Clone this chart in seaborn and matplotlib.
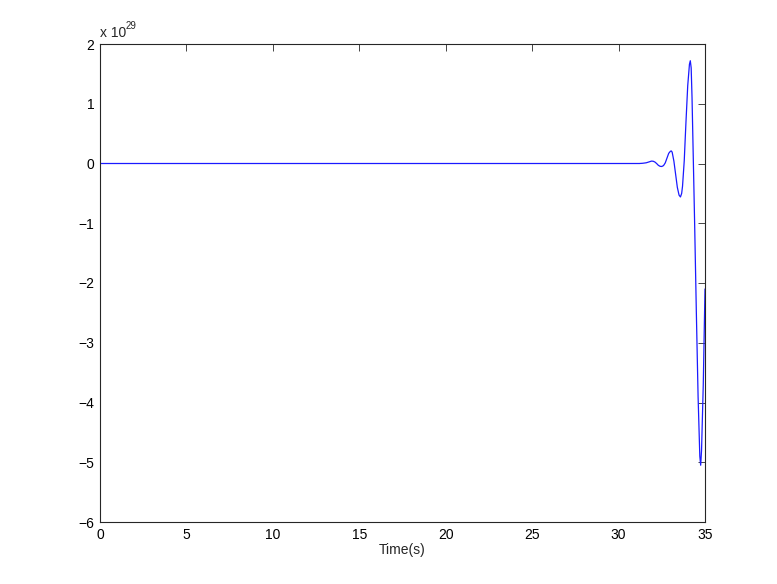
import numpy as np
import pandas as pd
import seaborn as sns
import matplotlib.pyplot as plt
from matplotlib.ticker import FuncFormatter, MultipleLocator

# signal, values in units of 1e29
time_s = [0.0, 31.0, 31.2, 31.4, 31.6, 31.8, 31.9, 32.0, 32.1, 32.2, 32.3,
          32.4, 32.5, 32.6, 32.7, 32.8, 32.9, 33.0, 33.05, 33.1, 33.2, 33.3,
          33.4, 33.5, 33.58, 33.65, 33.7, 33.8, 33.85, 33.9, 34.0, 34.1,
          34.15, 34.2, 34.25, 34.3, 34.35, 34.4, 34.5, 34.6, 34.7, 34.75,
          34.8, 34.9, 35.0]
signal_e29 = [0.0, 0.0, 0.0, 0.004, 0.012, 0.03, 0.04, 0.038, 0.025, 0.0,
              -0.03, -0.047, -0.05, -0.035, 0.01, 0.09, 0.17, 0.205, 0.21,
              0.19, 0.04, -0.18, -0.4, -0.53, -0.56, -0.5, -0.38, 0.05, 0.38,
              0.7, 1.3, 1.66, 1.72, 1.6, 1.1, 0.4, -0.3, -1.0, -2.5, -3.9,
              -4.9, -5.05, -4.8, -3.7, -2.1]

df = pd.DataFrame({"t": time_s, "y": np.array(signal_e29) * 1e29})

sns.set_style("white")
plt.rcParams["font.family"] = ["Liberation Sans", "DejaVu Sans"]

fig = plt.figure(figsize=(7.77, 5.84), dpi=100)
ax = fig.add_axes([100 / 777, 62 / 584, 605 / 777, 478 / 584])

sns.lineplot(data=df, x="t", y="y", ax=ax, color="#1a1aff", linewidth=0.9)

ax.set_xlim(0, 35)
ax.set_ylim(-6e29, 2e29)
ax.xaxis.set_major_locator(MultipleLocator(5))
ax.yaxis.set_major_locator(MultipleLocator(1e29))
ax.xaxis.set_major_formatter(FuncFormatter(lambda v, p: f"{v:g}"))
ax.yaxis.set_major_formatter(
    FuncFormatter(lambda v, p: f"{round(v / 1e29):d}".replace("-", "\u2212")))

ax.set_xlabel("Time(s)", fontsize=10, labelpad=1)
ax.set_ylabel("")

ax.tick_params(direction="in", length=5, width=0.6, colors="#262626",
               labelsize=10, top=True, right=True, pad=4,
               labelcolor="black")
for s in ax.spines.values():
    s.set_visible(True)
    s.set_color("#262626")
    s.set_linewidth(0.8)

ax.text(0.0, 1.008, "x 10", transform=ax.transAxes, fontsize=10,
        ha="left", va="bottom")
ax.text(0.042, 1.028, "29", transform=ax.transAxes, fontsize=7,
        ha="left", va="bottom")

fig.savefig("out.png", dpi=100)
